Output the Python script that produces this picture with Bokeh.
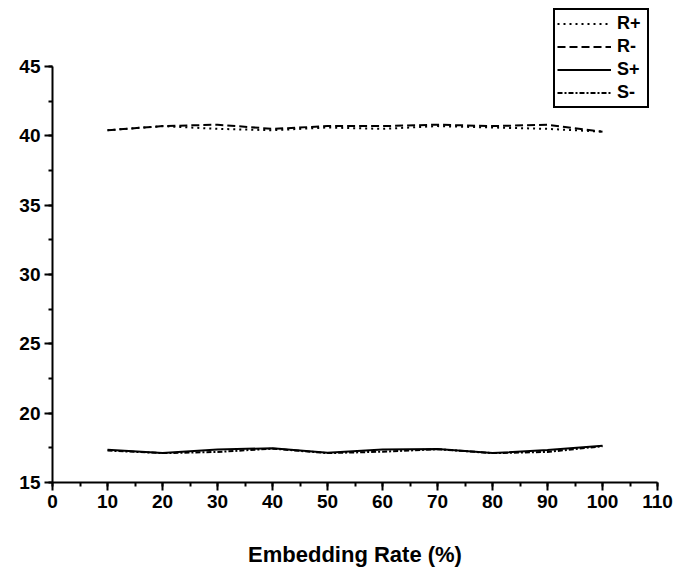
from bokeh.plotting import figure
from bokeh.models import Range1d, SingleIntervalTicker, Legend, LegendItem
from bokeh.embed import file_html
from bokeh.resources import INLINE

rate = [10, 20, 30, 40, 50, 60, 70, 80, 90, 100]
r_plus = [40.4, 40.7, 40.5, 40.4, 40.6, 40.5, 40.7, 40.6, 40.5, 40.3]
r_minus = [40.4, 40.7, 40.8, 40.5, 40.7, 40.7, 40.8, 40.7, 40.8, 40.3]
s_plus = [17.36, 17.12, 17.38, 17.47, 17.14, 17.38, 17.41, 17.12, 17.34, 17.65]
s_minus = [17.3, 17.12, 17.2, 17.44, 17.12, 17.22, 17.4, 17.12, 17.2, 17.62]

FONT = "Liberation Sans"

p = figure(width=675, height=570, output_backend="svg", toolbar_location=None,
           x_range=Range1d(0, 110), y_range=Range1d(15, 49.18),
           min_border_left=52, min_border_right=18, min_border_top=8, min_border_bottom=88)
p.outline_line_color = None
p.xgrid.visible = False
p.ygrid.visible = False

p.xaxis.ticker = SingleIntervalTicker(interval=10, num_minor_ticks=2)
p.yaxis.ticker = SingleIntervalTicker(interval=5, num_minor_ticks=2)
p.yaxis.bounds = (15, 45)
for ax in (p.xaxis, p.yaxis):
    ax.axis_line_width = 2
    ax.axis_line_color = "black"
    ax.major_tick_line_width = 2
    ax.minor_tick_line_width = 2
    ax.major_tick_out = 8
    ax.major_tick_in = 0
    ax.minor_tick_out = 4
    ax.minor_tick_in = 0
    ax.major_label_text_font = FONT
    ax.major_label_text_font_style = "bold"
    ax.major_label_text_font_size = "19px"
    ax.major_label_text_color = "black"
    ax.major_label_standoff = 4

p.xaxis.axis_label = "Embedding Rate (%)"
p.xaxis.axis_label_text_font = FONT
p.xaxis.axis_label_text_font_style = "bold"
p.xaxis.axis_label_text_font_size = "22px"
p.xaxis.axis_label_text_color = "black"
p.xaxis.axis_label_standoff = 31

w = 2
l1 = p.line(rate, r_plus, line_color="black", line_width=w, line_dash="2 4")
l2 = p.line(rate, r_minus, line_color="black", line_width=w, line_dash="8 4")
l3 = p.line(rate, s_plus, line_color="black", line_width=w)
l4 = p.line(rate, s_minus, line_color="black", line_width=w, line_dash="5 2 2 2")

legend = Legend(items=[LegendItem(label="R+", renderers=[l1]),
                       LegendItem(label="R-", renderers=[l2]),
                       LegendItem(label="S+", renderers=[l3]),
                       LegendItem(label="S-", renderers=[l4])],
                location=(501, 374))
legend.border_line_color = "black"
legend.border_line_alpha = 1
legend.border_line_width = 2
legend.background_fill_alpha = 1
legend.label_text_font = FONT
legend.label_text_font_style = "bold"
legend.label_text_font_size = "18px"
legend.label_text_color = "black"
legend.glyph_width = 54
legend.glyph_height = 23
legend.label_height = 23
legend.label_width = 28
legend.label_standoff = 6
legend.spacing = 0
legend.padding = 2
legend.margin = 0
p.add_layout(legend)

open("out.html", "w").write(file_html(p, INLINE))
